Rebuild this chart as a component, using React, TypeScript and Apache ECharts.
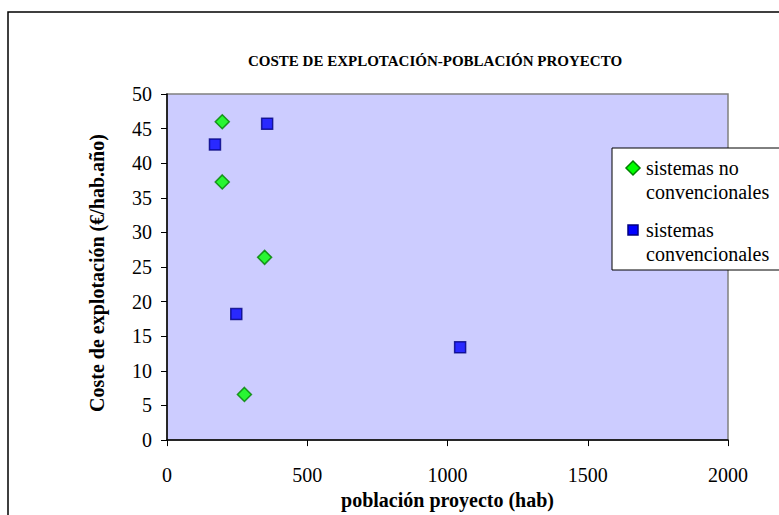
import React, { useEffect, useRef } from "react";
import * as echarts from "echarts";

const TITLE = "COSTE DE EXPLOTACIÓN-POBLACIÓN PROYECTO";
const X_NAME = "población proyecto (hab)";
const Y_NAME = "Coste de explotación (€/hab.año)";
const SERIES_NAMES = ["sistemas no convencionales", "sistemas convencionales"];
const LEGEND_LINES = [["sistemas no", "convencionales"], ["sistemas", "convencionales"]];

const noConvX = [197, 197, 348, 276];
const noConvY = [46.0, 37.3, 26.4, 6.6];
const convX = [171, 357, 247, 1045];
const convY = [42.7, 45.7, 18.2, 13.4];

const FONT = "Liberation Serif";

export default function App() {
  const ref = useRef<HTMLDivElement>(null);
  useEffect(() => {
    if (!ref.current) return;
    const chart = echarts.init(ref.current, null, { renderer: "svg" });
    const green = { color: "#00FF00", borderColor: "#008000", borderWidth: 1.5 };
    const blue = { color: "#0000FF", borderColor: "#000080", borderWidth: 1.5 };
    chart.setOption({
      animation: false,
      backgroundColor: "#FFFFFF",
      textStyle: { fontFamily: FONT, color: "#000" },
      title: {
        text: TITLE,
        left: 430,
        textAlign: "center",
        top: 48,
        textStyle: { fontFamily: FONT, fontSize: 15, fontWeight: "bold", color: "#000" },
      },
      grid: { left: 167, top: 94, right: 51, bottom: 71, show: true, backgroundColor: "#CCCCFF", borderColor: "#808080", borderWidth: 1.5 },
      xAxis: {
        type: "value",
        min: 0,
        max: 2000,
        interval: 500,
        name: X_NAME,
        nameLocation: "middle",
        nameGap: 48,
        nameTextStyle: { fontFamily: FONT, fontSize: 20, fontWeight: "bold", color: "#000" },
        axisLine: { show: true, onZero: false, lineStyle: { color: "#000", width: 1.5 } },
        axisTick: { show: true, length: 6, lineStyle: { color: "#000" } },
        axisLabel: { margin: 25, fontFamily: FONT, fontSize: 20, color: "#000", formatter: (v: number) => String(v) },
        splitLine: { show: false },
      },
      yAxis: {
        type: "value",
        min: 0,
        max: 50,
        interval: 5,
        name: Y_NAME,
        nameLocation: "middle",
        nameGap: 60,
        nameRotate: 90,
        nameTextStyle: { fontFamily: FONT, fontSize: 20, fontWeight: "bold", color: "#000", padding: [0, 12, 0, 0] },
        axisLine: { show: true, onZero: false, lineStyle: { color: "#000", width: 1.5 } },
        axisTick: { show: true, length: 6, lineStyle: { color: "#000" } },
        axisLabel: { margin: 15, fontFamily: FONT, fontSize: 20, color: "#000", formatter: (v: number) => String(v) },
        splitLine: { show: false },
      },
      series: [
        {
          name: SERIES_NAMES[0],
          type: "scatter",
          symbol: "diamond",
          symbolSize: 14,
          itemStyle: green,
          data: noConvX.map((x, i) => [x, noConvY[i]]),
        },
        {
          name: SERIES_NAMES[1],
          type: "scatter",
          symbol: "rect",
          symbolSize: 11,
          itemStyle: blue,
          data: convX.map((x, i) => [x, convY[i]]),
        },
      ],
      graphic: [
        {
          type: "rect",
          shape: { x: 8, y: 12, width: 900, height: 600 },
          style: { fill: "none", stroke: "#000", lineWidth: 1.5 },
          z: -10,
        },
        {
          type: "rect",
          shape: { x: 612, y: 148, width: 300, height: 122 },
          style: { fill: "#FFFFFF", stroke: "#000", lineWidth: 1 },
          z: 10,
        },
        {
          type: "polygon",
          shape: { points: [[633, 161], [640, 168], [633, 175], [626, 168]] },
          style: { fill: "#00FF00", stroke: "#008000", lineWidth: 1.5 },
          z: 11,
        },
        {
          type: "text",
          x: 646,
          y: 156,
          style: { text: LEGEND_LINES[0].join("\n"), fontFamily: FONT, fontSize: 20, lineHeight: 24, fill: "#000", verticalAlign: "top" },
          z: 11,
        },
        {
          type: "rect",
          shape: { x: 628, y: 225, width: 10, height: 10 },
          style: { fill: "#0000FF", stroke: "#000080", lineWidth: 1.5 },
          z: 11,
        },
        {
          type: "text",
          x: 646,
          y: 218,
          style: { text: LEGEND_LINES[1].join("\n"), fontFamily: FONT, fontSize: 20, lineHeight: 24, fill: "#000", verticalAlign: "top" },
          z: 11,
        },
      ],
    });
    return () => chart.dispose();
  }, []);
  return <div ref={ref} style={{ width: 779, height: 515, position: "absolute", left: 0, top: 0 }} />;
}
